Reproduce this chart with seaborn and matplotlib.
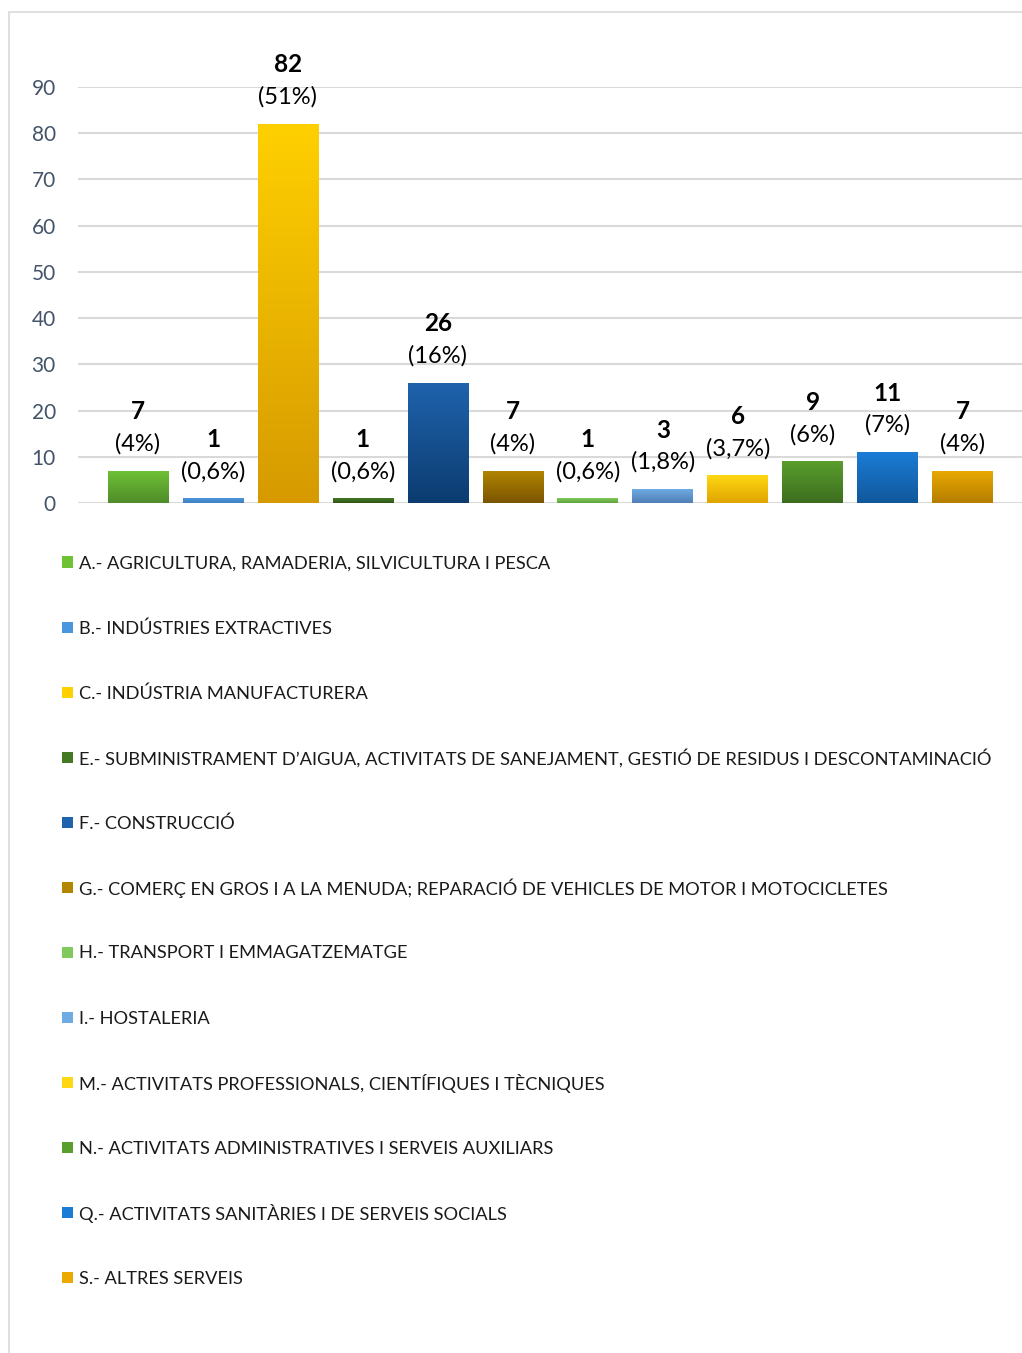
import numpy as np
import pandas as pd
import seaborn as sns
import matplotlib.pyplot as plt
from matplotlib.colors import LinearSegmentedColormap
from matplotlib.patches import Rectangle

# Sectors, counts and share labels
sectors = [
    "A.- AGRICULTURA, RAMADERIA, SILVICULTURA I PESCA",
    "B.- INDÚSTRIES EXTRACTIVES",
    "C.- INDÚSTRIA MANUFACTURERA",
    "E.- SUBMINISTRAMENT D\u2019AIGUA, ACTIVITATS DE SANEJAMENT, GESTIÓ DE RESIDUS I DESCONTAMINACIÓ",
    "F.- CONSTRUCCIÓ",
    "G.- COMERÇ EN GROS I A LA MENUDA; REPARACIÓ DE VEHICLES DE MOTOR I MOTOCICLETES",
    "H.- TRANSPORT I EMMAGATZEMATGE",
    "I.- HOSTALERIA",
    "M.- ACTIVITATS PROFESSIONALS, CIENTÍFIQUES I TÈCNIQUES",
    "N.- ACTIVITATS ADMINISTRATIVES I SERVEIS AUXILIARS",
    "Q.- ACTIVITATS SANITÀRIES I DE SERVEIS SOCIALS",
    "S.- ALTRES SERVEIS",
]
counts = [7, 1, 82, 1, 26, 7, 1, 3, 6, 9, 11, 7]
shares = ["(4%)", "(0,6%)", "(51%)", "(0,6%)", "(16%)", "(4%)",
          "(0,6%)", "(1,8%)", "(3,7%)", "(6%)", "(7%)", "(4%)"]

# gradient colours per bar (top, bottom)
top_colors = ["#6fc236", "#4a96de", "#ffd000", "#447a24", "#1f63ad", "#b38600",
              "#80c95c", "#6eaae3", "#ffd814", "#5a9e2d", "#1b7cd6", "#eaaa00"]
bottom_colors = ["#4f8c2a", "#3f7fc0", "#d69a00", "#2f5418", "#0c3c70", "#7a5400",
                 "#5fa33a", "#4f7fb5", "#e0a400", "#3c6d1f", "#11589b", "#b57d00"]

df = pd.DataFrame({"sector": sectors, "count": counts})

W, H = 1022, 1353
plt.rcParams['font.family'] = ['Lato', 'DejaVu Sans']
fig = plt.figure(figsize=(W / 100, H / 100), dpi=100)
ax = fig.add_axes([78 / W, 1 - 503 / H, 1 - 78 / W, (503 - 87) / H])

sns.barplot(data=df, x="sector", y="count", hue="sector", palette=top_colors,
            width=0.81, legend=False, ax=ax, zorder=2)

grad = np.linspace(0, 1, 256).reshape(-1, 1)
for i, patch in enumerate(ax.patches):
    x0, y0 = patch.get_x(), patch.get_y()
    w, h = patch.get_width(), patch.get_height()
    cmap = LinearSegmentedColormap.from_list("g", [bottom_colors[i], top_colors[i]])
    im = ax.imshow(grad, cmap=cmap, origin="lower", aspect="auto",
                   extent=[x0, x0 + w, y0, y0 + h], zorder=3)
    im.set_clip_path(patch)
    cx = x0 + w / 2
    ax.annotate(shares[i], (cx, y0 + h), xytext=(0, 19.4), textcoords="offset points",
                ha="center", va="center", fontsize=17, color="#000000",
                annotation_clip=False)
    ax.annotate(str(counts[i]), (cx, y0 + h), xytext=(0, 42.5), textcoords="offset points",
                ha="center", va="center", fontsize=17.5, fontweight="bold",
                color="#000000", annotation_clip=False)

ax.set_xlim(-0.8, 11.79)
ax.set_ylim(0, 90)
ax.set_yticks(range(0, 91, 10))
ax.tick_params(axis="y", length=0, pad=16, labelsize=15, labelcolor="#44546a")
ax.set_xticks([])
ax.set_xlabel("")
ax.set_ylabel("")
for s in ax.spines.values():
    s.set_visible(False)
ax.grid(axis="y", color="#d9d9d9", linewidth=1.5, zorder=0)
ax.set_axisbelow(True)

# legend laid out row by row so spacing stays even
for i, name in enumerate(sectors):
    yc = 562 + 65 * i
    sq = 11
    fig.patches.append(Rectangle((62 / W, 1 - (yc + sq / 2) / H), sq / W, sq / H,
                                 transform=fig.transFigure,
                                 facecolor=top_colors[i], edgecolor="none"))
    fig.text(79 / W, 1 - yc / H, name, ha="left", va="center_baseline",
             fontsize=13.15, color="#1a1a1a")

# outer chart frame
fig.patches.append(Rectangle((9 / W, -0.02), 1.1, 1 - 12 / H + 0.02,
                             transform=fig.transFigure, fill=False,
                             edgecolor="#d9d9d9", linewidth=1.2))

fig.savefig("out.png", dpi=100)
